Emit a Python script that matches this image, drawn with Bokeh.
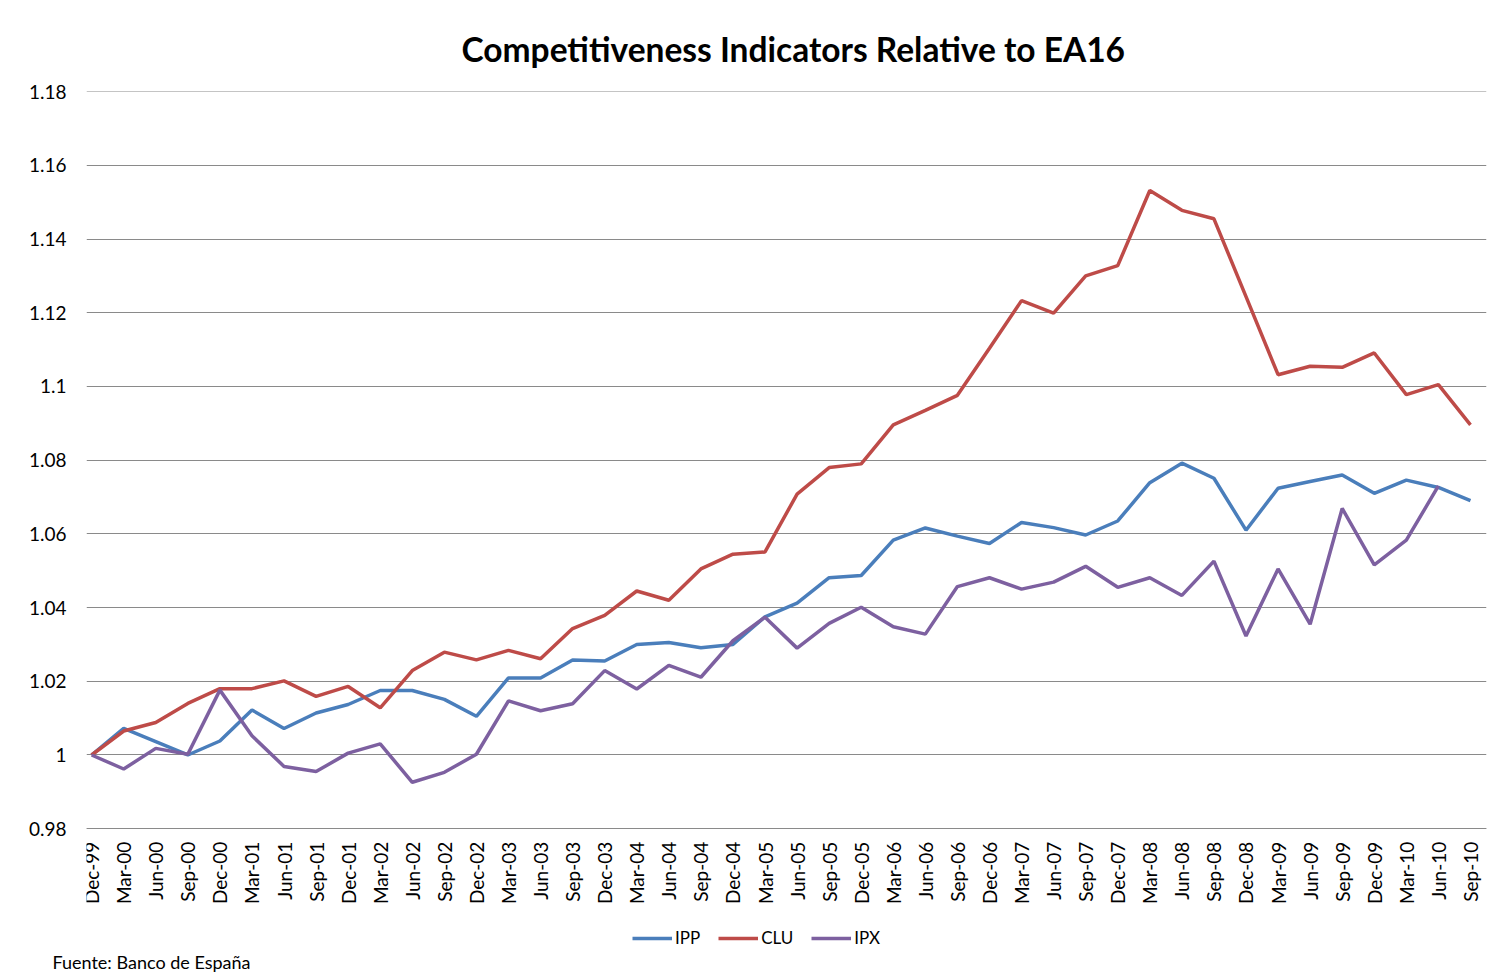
import math
import numpy as np
from bokeh.plotting import figure
from bokeh.models import (ColumnDataSource, FixedTicker, NumeralTickFormatter,
                          Legend, LegendItem, Range1d, Title)
from bokeh.embed import file_html
from bokeh.resources import INLINE

# ---------------- data ----------------
quarters = ["Dec-99", "Mar-00", "Jun-00", "Sep-00", "Dec-00", "Mar-01", "Jun-01", "Sep-01",
            "Dec-01", "Mar-02", "Jun-02", "Sep-02", "Dec-02", "Mar-03", "Jun-03", "Sep-03",
            "Dec-03", "Mar-04", "Jun-04", "Sep-04", "Dec-04", "Mar-05", "Jun-05", "Sep-05",
            "Dec-05", "Mar-06", "Jun-06", "Sep-06", "Dec-06", "Mar-07", "Jun-07", "Sep-07",
            "Dec-07", "Mar-08", "Jun-08", "Sep-08", "Dec-08", "Mar-09", "Jun-09", "Sep-09",
            "Dec-09", "Mar-10", "Jun-10", "Sep-10"]

ipp = [1.000, 1.0072, 1.0036, 1.000, 1.0038, 1.0122, 1.0072, 1.0114, 1.0137, 1.0175,
       1.0175, 1.0151, 1.0105, 1.0209, 1.0209, 1.0258, 1.0255, 1.0300, 1.0305, 1.0291,
       1.0300, 1.0375, 1.0412, 1.0481, 1.0487, 1.0583, 1.0616, 1.0594, 1.0574, 1.0631,
       1.0617, 1.0597, 1.0635, 1.0739, 1.0792, 1.0751, 1.0610, 1.0724, 1.0742, 1.0760,
       1.0710, 1.0746, 1.0726, 1.0690]

clu = [1.000, 1.0065, 1.0088, 1.0140, 1.0180, 1.0180, 1.0201, 1.0159, 1.0186, 1.0128,
       1.0229, 1.0279, 1.0258, 1.0284, 1.0261, 1.0343, 1.0379, 1.0445, 1.0420, 1.0505,
       1.0545, 1.0551, 1.0708, 1.0780, 1.0790, 1.0896, 1.0935, 1.0976, 1.1104, 1.1233,
       1.1199, 1.1300, 1.1328, 1.1532, 1.1478, 1.1455, 1.1244, 1.1032, 1.1055, 1.1052,
       1.1091, 1.0978, 1.1005, 1.0896]

ipx = [1.000, 0.9962, 1.0018, 1.0002, 1.0176, 1.0052, 0.9969, 0.9955, 1.0005, 1.0030,
       0.9926, 0.9953, 1.0002, 1.0147, 1.0120, 1.0139, 1.0229, 1.0179, 1.0243, 1.0211,
       1.0310, 1.0374, 1.0290, 1.0357, 1.0401, 1.0348, 1.0328, 1.0457, 1.0481, 1.0450,
       1.0469, 1.0512, 1.0455, 1.0481, 1.0433, 1.0526, 1.0323, 1.0505, 1.0355, 1.0669,
       1.0516, 1.0583, 1.0730, float("nan")]

y_ticks = [0.98, 1.0, 1.02, 1.04, 1.06, 1.08, 1.1, 1.12, 1.14, 1.16, 1.18]
series_names = ["IPP", "CLU", "IPX"]
series_colors = ["#4A7EBB", "#BE4B48", "#7D60A0"]
chart_title = "Competitiveness Indicators Relative to EA16"
source_note = "Fuente: Banco de España"

# ---------------- layout geometry ----------------
FONT = "Lato"
W, H = 1490, 974
TOP, BOTTOM_BORDER = 91, 24          # frame top; space kept under the frame for the source note
LEFT, RIGHT_EDGE = 86, 1486          # frame left / right (right edge leaves room for last label)
AXIS_Y_PX = 828                      # screen row of the lowest gridline / x axis
frame_h = H - BOTTOM_BORDER - TOP
px_per_unit = (AXIS_Y_PX - TOP) / (max(y_ticks) - min(y_ticks))
y_end = max(y_ticks) + 0.00005
y_start = y_end - frame_h / px_per_unit

x_start = -0.16
x_end = 43.5

idx = list(range(len(quarters)))
src = ColumnDataSource(dict(x=idx, IPP=ipp, CLU=clu, IPX=ipx))

p = figure(width=W, height=H, output_backend="svg", toolbar_location=None,
           x_range=Range1d(x_start, x_end),
           y_range=Range1d(y_start, y_end),
           min_border_left=LEFT, min_border_right=W - RIGHT_EDGE, min_border_top=TOP,
           min_border_bottom=BOTTOM_BORDER)

p.title.text = chart_title
p.title.text_font = FONT
p.title.text_font_size = "33.5px"
p.title.text_font_style = "bold"
p.title.align = "left"
p.title.offset = 375
p.title.text_color = "black"
p.title.standoff = 45

p.outline_line_color = None
p.background_fill_color = "white"
p.border_fill_color = "white"

# grid
p.xgrid.grid_line_color = None
p.ygrid.grid_line_color = "#8a8a8a"
p.ygrid.grid_line_width = 1
p.ygrid.ticker = FixedTicker(ticks=y_ticks)

# y axis
p.yaxis.ticker = FixedTicker(ticks=y_ticks)
p.yaxis.formatter = NumeralTickFormatter(format="0.[00]")
p.yaxis.axis_line_color = None
p.yaxis.major_tick_line_color = None
p.yaxis.minor_tick_line_color = None
p.yaxis.major_label_standoff = 14
p.yaxis.major_label_text_font = FONT
p.yaxis.major_label_text_font_size = "19px"
p.yaxis.major_label_text_color = "black"

# x axis: drawn at the 0.98 line inside the frame
p.xaxis.fixed_location = min(y_ticks)
p.xaxis.ticker = FixedTicker(ticks=idx)
p.xaxis.major_label_overrides = {i: q for i, q in zip(idx, quarters)}
p.xaxis.major_label_orientation = math.pi / 2
p.xaxis.axis_line_color = "#8a8a8a"
p.xaxis.major_tick_line_color = None
p.xaxis.minor_tick_line_color = None
p.xaxis.major_label_standoff = 7
p.xaxis.major_label_text_font = FONT
p.xaxis.major_label_text_font_size = "19px"
p.xaxis.major_label_text_color = "black"

renderers = []
for name, col in zip(series_names, series_colors):
    r = p.line("x", name, source=src, line_color=col, line_width=3.5)
    renderers.append(r)

legend = Legend(items=[LegendItem(label=n, renderers=[r]) for n, r in zip(series_names, renderers)],
                orientation="horizontal", location=(546, 2),
                glyph_width=40, glyph_height=18, label_standoff=3, spacing=18,
                padding=0, margin=0, border_line_color=None, background_fill_alpha=0,
                label_text_font=FONT, label_text_font_size="17px", label_text_color="black")
p.add_layout(legend, "center")

note = Title(text=source_note, align="left", offset=-34, standoff=0, vertical_align="top",
             text_font=FONT, text_font_size="18px", text_font_style="normal",
             text_color="black")
p.add_layout(note, "below")

open("out.html", "w").write(file_html(p, INLINE))
